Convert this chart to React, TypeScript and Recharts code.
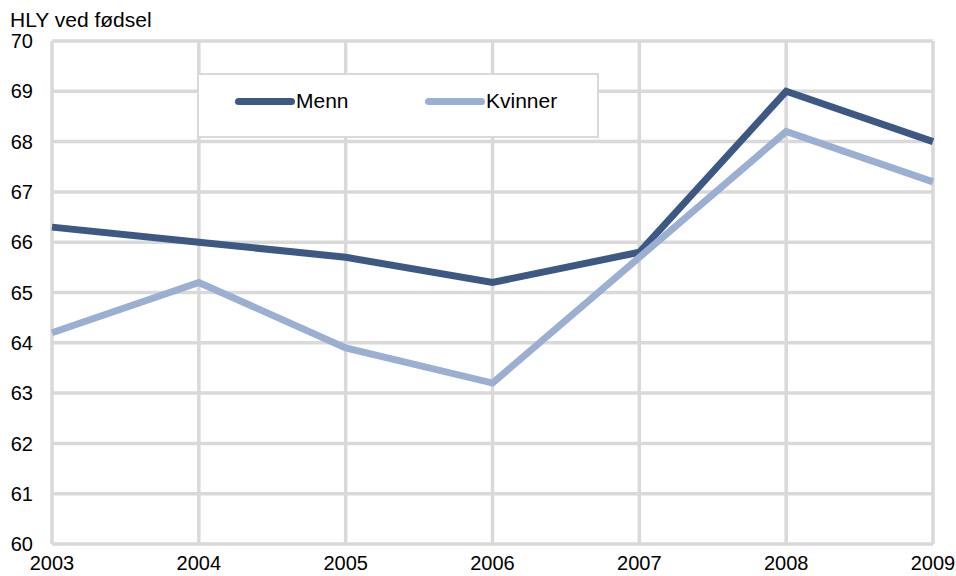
import { LineChart, Line, XAxis, YAxis, CartesianGrid } from "recharts"

const years = [2003, 2004, 2005, 2006, 2007, 2008, 2009]
const menn = [66.3, 66.0, 65.7, 65.2, 65.8, 69.0, 68.0]
const kvinner = [64.2, 65.2, 63.9, 63.2, 65.7, 68.2, 67.2]
const yTicks = [60, 61, 62, 63, 64, 65, 66, 67, 68, 69, 70]

const data = years.map((year, i) => ({ year, menn: menn[i], kvinner: kvinner[i] }))

const font = "'Liberation Sans', Arial, sans-serif"
const fontSize = 20

const legendItems = [
  { label: "Menn", color: "#3D5882", left: 36 },
  { label: "Kvinner", color: "#9AAFD1", left: 226 },
]

// legend box sits inside the plot, drawn over the grid
function ChartLegend() {
  return (
    <div
      style={{
        position: "absolute",
        left: 197,
        top: 73,
        width: 398,
        height: 61,
        background: "#fff",
        border: "2px solid #D9D9D9",
        fontFamily: font,
        fontSize: 21,
        color: "#000",
      }}
    >
      {legendItems.map((item) => (
        <div
          key={item.label}
          style={{ position: "absolute", left: item.left, top: 14, display: "flex", alignItems: "center" }}
        >
          <span
            style={{
              display: "inline-block",
              width: 60,
              height: 7,
              borderRadius: 3.5,
              background: item.color,
              marginRight: 1,
            }}
          />
          <span>{item.label}</span>
        </div>
      ))}
    </div>
  )
}

export default function App() {
  return (
    <div style={{ position: "absolute", left: 0, top: 0, width: 956, height: 576, background: "#fff" }}>
      <div
        style={{
          position: "absolute",
          left: 10,
          top: 8,
          fontFamily: font,
          fontSize: 21,
          color: "#000",
          lineHeight: "24px",
        }}
      >
        HLY ved fødsel
      </div>
      <LineChart width={956} height={576} data={data} margin={{ top: 41, right: 23, bottom: 0, left: 8 }}>
        <CartesianGrid stroke="#D9D9D9" strokeWidth={3.5} />
        <XAxis
          dataKey="year"
          type="number"
          domain={[2003, 2009]}
          ticks={years}
          height={32}
          axisLine={false}
          tickLine={false}
          tickSize={0}
          tickMargin={12}
          tick={{ fill: "#000", fontSize, fontFamily: font }}
        />
        <YAxis
          domain={[60, 70]}
          ticks={yTicks}
          width={44}
          axisLine={false}
          tickLine={false}
          tickSize={0}
          tickMargin={19}
          tick={{ fill: "#000", fontSize, fontFamily: font }}
        />
        <Line dataKey="menn" name="Menn" stroke="#3D5882" strokeWidth={7} dot={false} isAnimationActive={false} />
        <Line dataKey="kvinner" name="Kvinner" stroke="#9AAFD1" strokeWidth={7} dot={false} isAnimationActive={false} />
      </LineChart>
      <ChartLegend />
    </div>
  )
}
